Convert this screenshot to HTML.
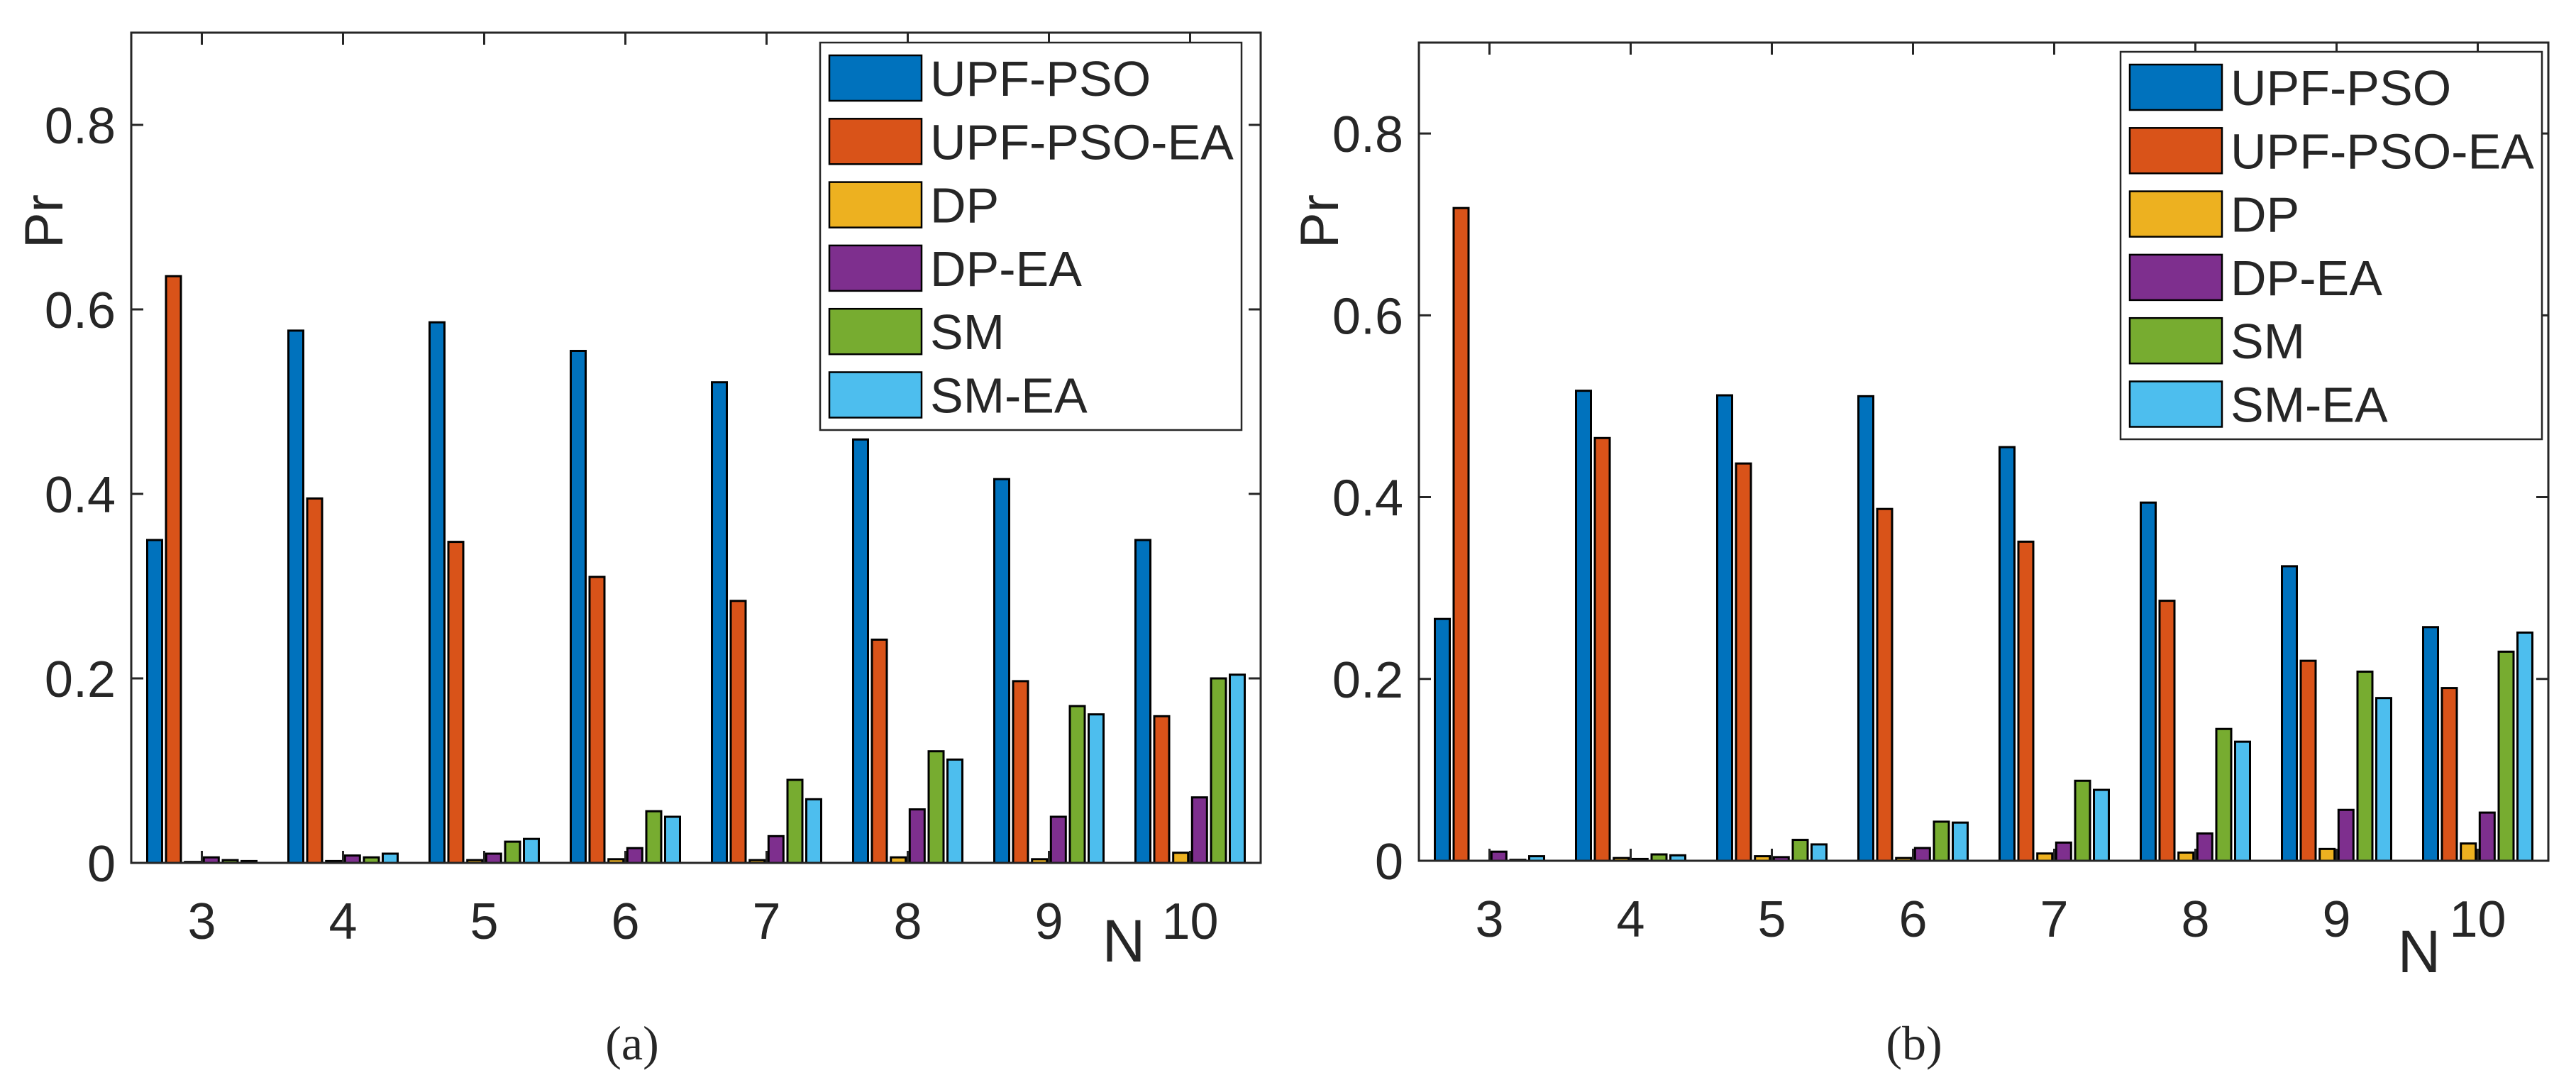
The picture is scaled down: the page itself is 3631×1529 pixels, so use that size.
<!DOCTYPE html>
<html><head><meta charset="utf-8"><style>
html,body{margin:0;padding:0;background:#fff}
svg{display:block}
text{font-family:"Liberation Sans",sans-serif;fill:#262626}
</style></head><body>
<svg id="fig" width="3631" height="1529" viewBox="0 0 3631 1529" xmlns="http://www.w3.org/2000/svg"></svg>
<script>
const categories = [3,4,5,6,7,8,9,10];
const seriesNames = ["UPF-PSO","UPF-PSO-EA","DP","DP-EA","SM","SM-EA"];
const yTicks = [0,0.2,0.4,0.6,0.8];
const yTickLabels = ["0","0.2","0.4","0.6","0.8"];
const aUPFPSO   = [0.35,0.577,0.586,0.555,0.521,0.459,0.416,0.35];
const aUPFPSOEA = [0.636,0.395,0.348,0.31,0.284,0.242,0.197,0.159];
const aDP       = [0.001,0.002,0.003,0.004,0.003,0.006,0.004,0.011];
const aDPEA     = [0.006,0.008,0.01,0.016,0.029,0.058,0.05,0.071];
const aSM       = [0.003,0.006,0.023,0.056,0.09,0.121,0.17,0.2];
const aSMEA     = [0.002,0.01,0.026,0.05,0.069,0.112,0.161,0.204];
const bUPFPSO   = [0.266,0.517,0.512,0.511,0.455,0.394,0.324,0.257];
const bUPFPSOEA = [0.718,0.465,0.437,0.387,0.351,0.286,0.22,0.19];
const bDP       = [0.0,0.003,0.005,0.003,0.008,0.009,0.013,0.019];
const bDPEA     = [0.01,0.002,0.004,0.014,0.02,0.03,0.056,0.053];
const bSM       = [0.001,0.007,0.023,0.043,0.088,0.145,0.208,0.23];
const bSMEA     = [0.005,0.006,0.018,0.042,0.078,0.131,0.179,0.251];

const colors = ["#0072BD","#D95319","#EDB120","#7E2F8E","#77AC30","#4DBEEE"];
const NS="http://www.w3.org/2000/svg";
const svg=document.getElementById("fig");
function mk(tag,attrs,parent){const e=document.createElementNS(NS,tag);for(const k in attrs)e.setAttribute(k,attrs[k]);(parent||svg).appendChild(e);return e;}

function panel(p){
  const g=mk("g",{});
  
  
  const xS=v=>p.L+(v-2.5)/8*(p.R-p.L);
  const yS=v=>p.B-v/0.9*(p.B-p.T);
  const off=[-66.5,-40,-13.3,13.3,40,66.5], bw=21;
  p.series.forEach((ser,si)=>{
    ser.forEach((v,ci)=>{
      const cx=xS(categories[ci])+off[si];
      const y=yS(v);
      const r=mk("rect",{x:cx-bw/2,y:y,width:bw,height:Math.max(p.B-y,0.01),fill:colors[si],stroke:"#000","stroke-width":3},g);
      
      
    });
  });
  const box=mk("rect",{x:p.L,y:p.T,width:p.R-p.L,height:p.B-p.T,fill:"none",stroke:"#262626","stroke-width":3},g);
  
  
  yTicks.forEach((t,i)=>{
    const y=yS(t);
    mk("line",{x1:p.L,x2:p.L+17,y1:y,y2:y,stroke:"#262626","stroke-width":3},g);
    mk("line",{x1:p.R,x2:p.R-17,y1:y,y2:y,stroke:"#262626","stroke-width":3},g);
    const tx=mk("text",{x:p.L-22,y:y+26,"text-anchor":"end","font-size":72},g);
    tx.textContent=yTickLabels[i];
    
    
  });
  categories.forEach(c=>{
    const x=xS(c);
    mk("line",{x1:x,x2:x,y1:p.B,y2:p.B-17,stroke:"#262626","stroke-width":3},g);
    mk("line",{x1:x,x2:x,y1:p.T,y2:p.T+17,stroke:"#262626","stroke-width":3},g);
    const tx=mk("text",{x:x,y:p.B+107,"text-anchor":"middle","font-size":72},g);
    tx.textContent=String(c);
    
    
  });
  const yl=mk("text",{x:0,y:0,"font-size":76,"text-anchor":"middle",transform:`translate(${p.prX},${p.prY}) rotate(-90)`},g);
  yl.textContent="Pr";
  
  
  const xl=mk("text",{x:p.nX,y:p.nY+29,"font-size":84,"text-anchor":"middle"},g);
  xl.textContent="N";
  
  
  const lg=mk("g",{},g);
  
  
  mk("rect",{x:p.lgL,y:p.lgT,width:p.lgW,height:p.lgH,fill:"#fff",stroke:"#262626","stroke-width":2.5},lg);
  seriesNames.forEach((n,i)=>{
    const cy=p.lgT+50+i*89.3;
    const e=mk("g",{},lg);
    
    
    mk("rect",{x:p.lgL+13,y:cy-32,width:130,height:64,fill:colors[i],stroke:"#000","stroke-width":2.5},e);
    const t=mk("text",{x:p.lgL+155,y:cy+25,"font-size":70},e);
    t.textContent=n;
  });
  const cap=mk("text",{x:p.capX,y:1493,"font-size":68,"text-anchor":"middle",style:"font-family:'Liberation Serif',serif"},g);
  cap.textContent=p.cap;
  
  
}
panel({id:"panel-a",L:185,R:1777,T:46,B:1216,series:[aUPFPSO,aUPFPSOEA,aDP,aDPEA,aSM,aSMEA],
  prX:88,prY:312,nX:1584,nY:1326,lgL:1156,lgT:60,lgW:594,lgH:546,capX:891,cap:"(a)"});
panel({id:"panel-b",L:2000,R:3592,T:60,B:1213,series:[bUPFPSO,bUPFPSOEA,bDP,bDPEA,bSM,bSMEA],
  prX:1886,prY:312,nX:3410,nY:1341,lgL:2989,lgT:73,lgW:594,lgH:546,capX:2698,cap:"(b)"});
</script>
</body></html>
